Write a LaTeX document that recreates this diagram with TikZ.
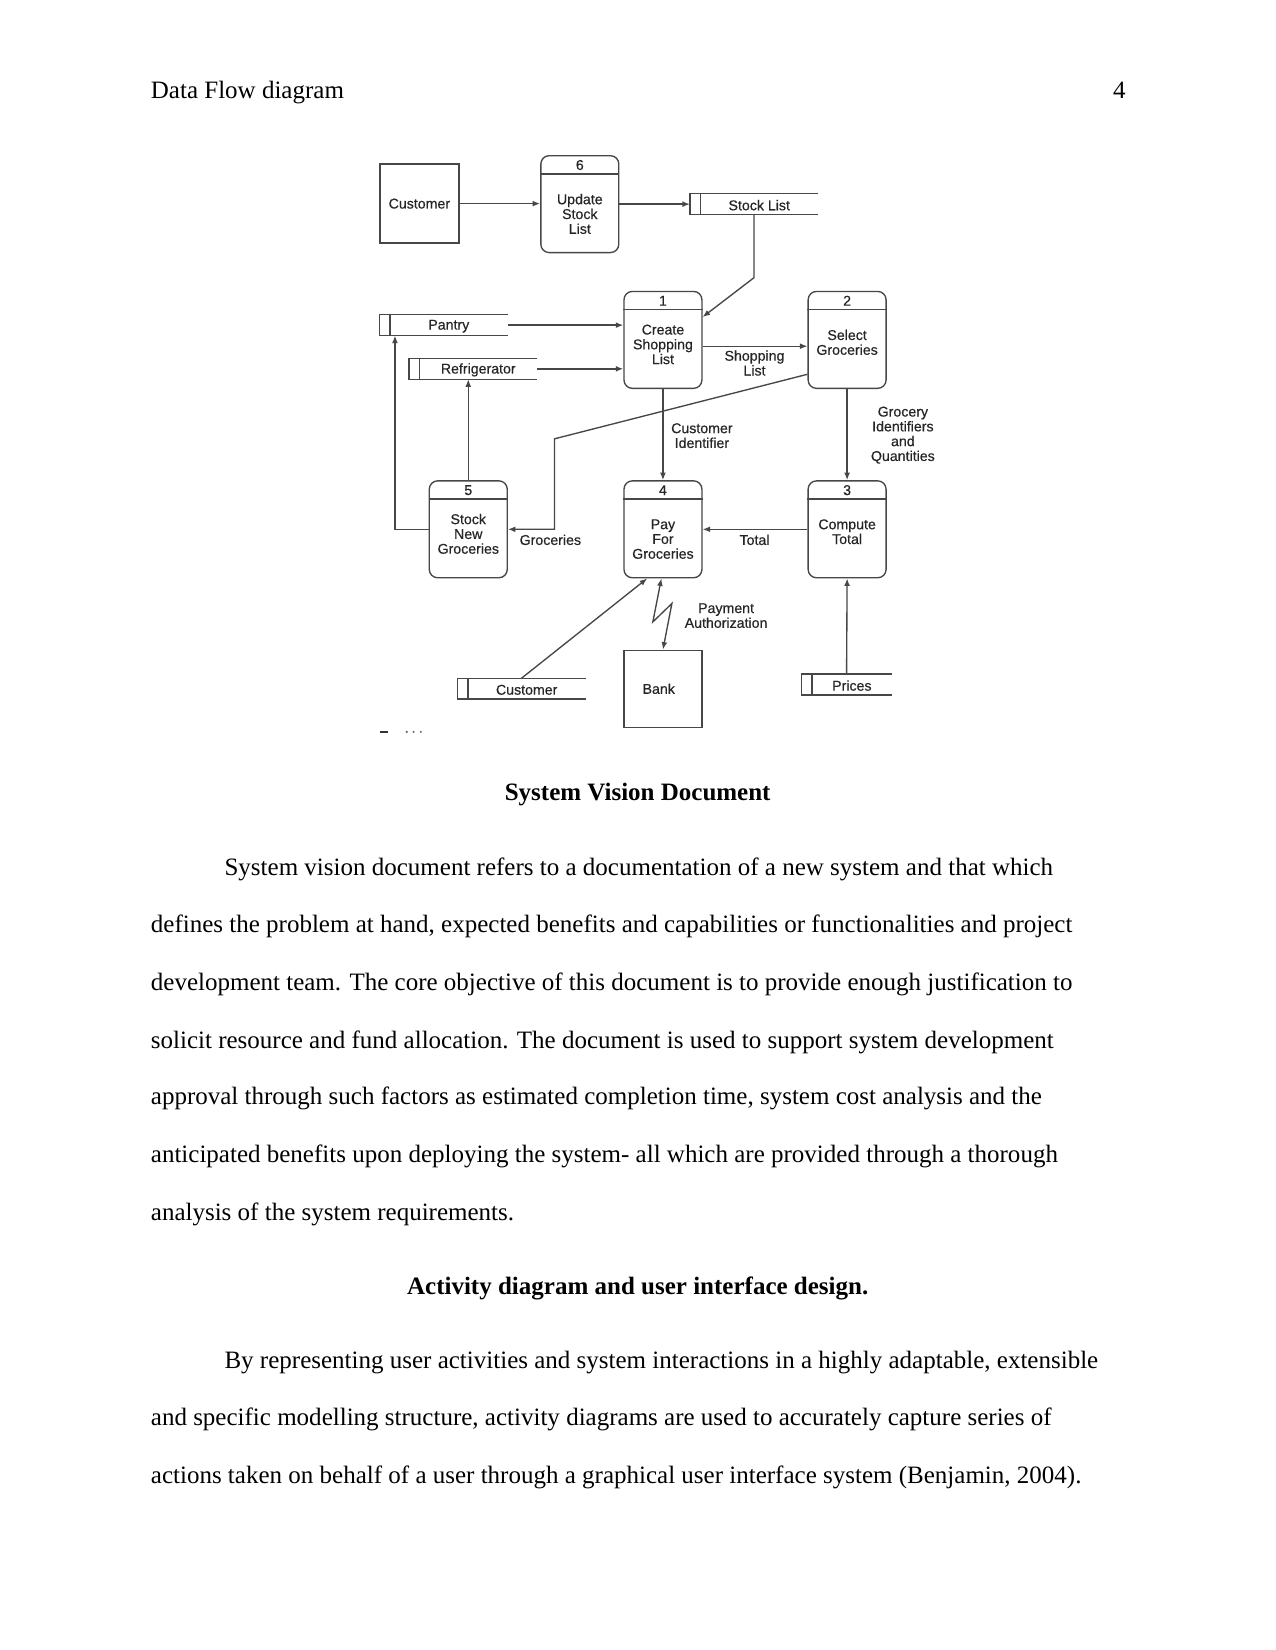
\documentclass[tikz,border=0pt]{standalone}
\usepackage{fontspec}
\setmainfont{Liberation Serif}
\newfontfamily\dfont[FakeBold=0.45]{Liberation Sans}
\usetikzlibrary{arrows.meta,calc}
\begin{document}
\begin{tikzpicture}[x=0.50495pt,y=-0.50495pt,
 ln/.style={draw=black!72, line width=0.65pt},
 flow/.style={ln, -{Latex[length=3.6pt,width=2.8pt]}},
 proc/.style={ln, rounded corners=4pt, minimum width=37.4pt, minimum height=46.5pt, inner sep=0pt},
 ent/.style={ln, inner sep=0pt},
 store/.style={inner sep=0pt, minimum height=9.6pt},
 dtxt/.style={font=\dfont\fontsize{6.8}{7.1}\selectfont, align=center, inner sep=0pt, text=black!85},
 body/.style={font=\fontsize{12}{14}\selectfont, anchor=base west, inner sep=0pt},
 head/.style={font=\bfseries\fontsize{12}{14}\selectfont, anchor=base, inner sep=0pt},
]
\fill[white] (0,0) rectangle (1212,1568);
\useasboundingbox (0,0) rectangle (1212,1568);

% header
\node[body] (hl) at (143,94) {Data Flow diagram};
\node[body, anchor=base east] (hr) at (1070,94) {4};

% external entities
\node[ent, minimum width=37.9pt, minimum height=37.9pt] (cust) at (398.5,193.5) {};
\node[dtxt] at (cust) {Customer};
\node[ent, minimum width=37.4pt, minimum height=36.9pt] (bank) at (630,654.5) {};
\node[dtxt] at ($(bank)+(-4,0)$) {Bank};

% processes
\node[proc] (p6) at (551,194) {};
\node[proc] (p1) at (630,323) {};
\node[proc] (p2) at (805,323) {};
\node[proc] (p5) at (445,503) {};
\node[proc] (p4) at (630,503) {};
\node[proc] (p3) at (805,503) {};
\foreach \n/\k in {p6/6,p1/1,p2/2,p5/5,p4/4,p3/3}{
  \draw[ln] ($(\n.north west)+(0,18)$) -- ($(\n.north east)+(0,18)$);
  \node[dtxt] at ($(\n.north)+(0,9.5)$) {\k};
}
\node[dtxt] at ($(p6.north)+(0,56)$) {Update\\Stock\\List};
\node[dtxt] at ($(p1.north)+(0,51)$) {Create\\Shopping\\List};
\node[dtxt] at ($(p2.north)+(0,49)$) {Select\\Groceries};
\node[dtxt] at ($(p5.north)+(0,51)$) {Stock\\New\\Groceries};
\node[dtxt] at ($(p4.north)+(0,56)$) {Pay\\For\\Groceries};
\node[dtxt] at ($(p3.north)+(0,49)$) {Compute\\Total};

% data stores
\node[store, minimum width=61.1pt] (stock) at (716.5,194) {};
\node[store, minimum width=61.1pt] (pantry) at (421.5,309) {};
\node[store, minimum width=61.1pt] (fridge) at (449.5,350.5) {};
\node[store, minimum width=61.1pt] (custs) at (495.5,654.5) {};
\node[store, minimum width=42.9pt] (prices) at (804.5,650.5) {};
\foreach \n/\t in {stock/Stock List,pantry/Pantry,fridge/Refrigerator,custs/Customer,prices/Prices}{
  \draw[ln] (\n.north east) -- (\n.north west) -- (\n.south west) -- (\n.south east);
  \draw[ln] ($(\n.north west)+(10,0)$) -- ($(\n.south west)+(10,0)$);
  \node[dtxt] at ($(\n.center)+(5,1)$) {\t};
}

% flows
\draw[flow] (cust.east) -- (p6.west |- cust.east);
\draw[flow] (p6.east) -- (stock.west);
\draw[flow] (stock.south) -- ++(0,60) -- ($(p1.north east)+(0,25)$);
\draw[flow] (pantry.east) -- (p1.west |- pantry.east);
\draw[flow] (fridge.east) -- (p1.west |- fridge.east);
\draw[flow] (p1.east |- 0,329) -- (p2.west |- 0,329);
\coordinate (g1) at (527,417);
\draw[flow] ($(p2.south west)+(0,-14)$) -- (g1) -- (g1 |- p5.east) -- (p5.east);
\draw[flow] (p5.north) -- (p5.north |- fridge.south);
\draw[flow] (p5.west) -- ++(-32,0) coordinate (c9) -- (c9 |- pantry.south);
\draw[flow] (p1.south) -- (p4.north);
\draw[flow] (p2.south) -- (p3.north);
\draw[flow] (p3.west) -- (p4.east);
\draw[flow] (prices.north) -- (p3.south);
\draw[flow] (custs.north) -- ($(p4.south)+(-15,0)$);
\coordinate (z1) at (620.4,591);
\coordinate (z2) at (638.5,573.5);
\draw[ln, {Latex[length=3.6pt,width=2.8pt]}-{Latex[length=3.6pt,width=2.8pt]}] ($(p4.south)+(-1.5,0)$) -- (z1) -- (z2) -- (bank.north);

% flow labels
\node[dtxt] at (717,345) {Shopping\\List};
\node[dtxt] at (667,414) {Customer\\Identifier};
\node[dtxt] at (858,413.5) {Grocery\\Identifiers\\and\\Quantities};
\node[dtxt] at (523,513) {Groceries};
\node[dtxt] at (717,513) {Total};
\node[dtxt] at (690,585) {Payment\\Authorization};

% cropped remnant
\fill[black!80] (361,694.5) rectangle (369,696.5);
\fill[black!60] (386.5,695.5) circle (1.1);
\fill[black!60] (393,695.5) circle (1.1);
\fill[black!60] (400,695.5) circle (1.1);

% body text
\node[head] at (606,761) {System Vision Document};
\node[body] at (213,832) {System vision document refers to a documentation of a new system and that which};
\node[body] at (143,886) {defines the problem at hand, expected benefits and capabilities or functionalities and project};
\node[body] at (143,941) {development team. The core objective of this document is to provide enough justification to};
\node[body] at (143,996) {solicit resource and fund allocation. The document is used to support system development};
\node[body] at (143,1050) {approval through such factors as estimated completion time, system cost analysis and the};
\node[body] at (143,1105) {anticipated benefits upon deploying the system- all which are provided through a thorough};
\node[body] at (143,1160) {analysis of the system requirements.};
\node[head] at (606,1230) {Activity diagram and user interface design.};
\node[body] at (213,1300) {By representing user activities and system interactions in a highly adaptable, extensible};
\node[body] at (143,1355) {and specific modelling structure, activity diagrams are used to accurately capture series of};
\node[body] at (143,1410) {actions taken on behalf of a user through a graphical user interface system (Benjamin, 2004).};
\end{tikzpicture}
\end{document}
